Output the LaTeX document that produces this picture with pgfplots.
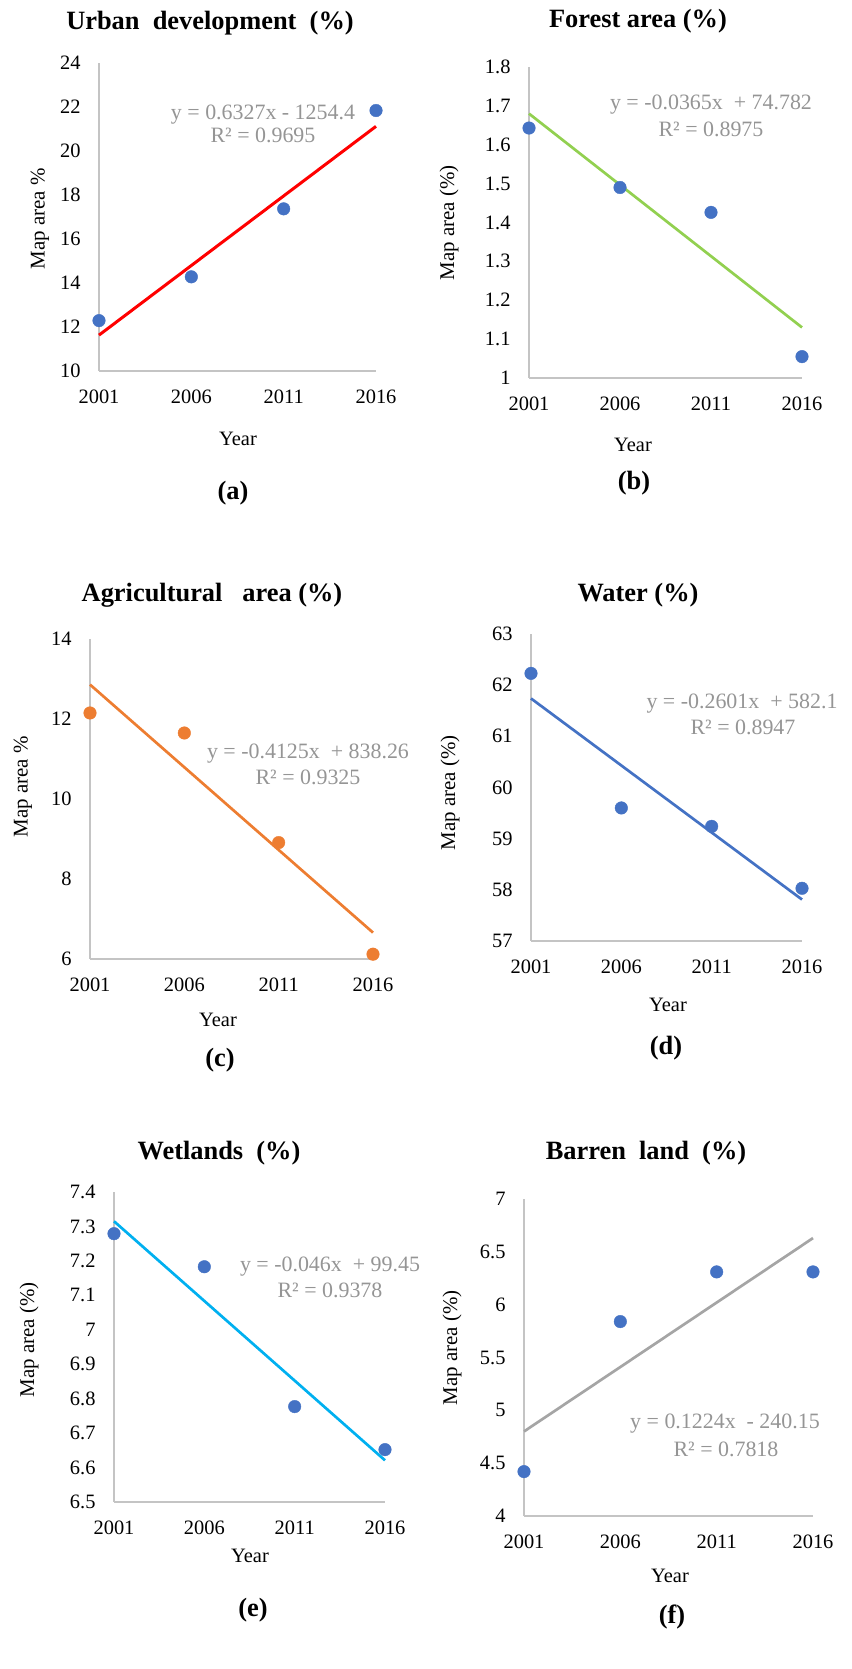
\documentclass[border=0pt]{standalone}
\usepackage{fontspec}
\setmainfont{Liberation Serif}
\usepackage{pgfplots}
\pgfplotsset{compat=1.18}
\definecolor{dotblue}{HTML}{4472C4}
\definecolor{dotorange}{HTML}{ED7D31}
\definecolor{tred}{HTML}{FF0000}
\definecolor{tgreen}{HTML}{92D050}
\definecolor{torange}{HTML}{ED7D31}
\definecolor{tblue}{HTML}{4472C4}
\definecolor{tcyan}{HTML}{00B0F0}
\definecolor{tgrey}{HTML}{A5A5A5}
\definecolor{eqgrey}{HTML}{959595}
\definecolor{axgrey}{HTML}{C4C4C4}
\pgfplotsset{
  panel/.style={
    scale only axis, anchor=south west, clip=false,
    axis x line=bottom, axis y line=left,
    axis line style={-, draw=axgrey, line width=1.3bp},
    xmin=2001, xmax=2016,
    xtick={2001,2006,2011,2016}, xticklabels={2001,2006,2011,2016},
    major tick length=0pt, tick style={draw=none},
    tick label style={font=\fontsize{20.5}{24}\selectfont, text=black},
    xticklabel style={yshift=-15bp},
    yticklabel style={xshift=-15bp},
    /pgf/number format/assume math mode=true,
  },
  dots/.style={only marks, mark=*, mark size=6.3bp, mark options={draw=#1, fill=#1}},
  trend/.style={no marks, draw=#1, line width=2.7bp},
}
\newcommand{\ttl}{\bfseries\fontsize{26.5}{30}\selectfont}
\newcommand{\lab}{\fontsize{20.5}{24}\selectfont}
\newcommand{\ylab}{\fontsize{21}{25}\selectfont}
\newcommand{\eqf}{\fontsize{22}{26}\selectfont\color{eqgrey}}
\begin{document}
\begin{tikzpicture}
\useasboundingbox (0,0) rectangle (852bp,1669bp);

% (a) Urban development
\begin{axis}[panel, at={(99bp,1298bp)}, width=277bp, height=308bp,
  ymin=10, ymax=24, ytick={10,12,14,16,18,20,22,24}]
\addplot[dots=dotblue] coordinates {(2001,12.29) (2006,14.28) (2011,17.37) (2016,21.84)};
\addplot[trend=tred, line width=3bp] coordinates {(2001,11.63) (2016,21.12)};
\end{axis}

% (b) Forest area
\begin{axis}[panel, at={(529bp,1291bp)}, width=273bp, height=311bp,
  ymin=1, ymax=1.8, ytick={1,1.1,1.2,1.3,1.4,1.5,1.6,1.7,1.8}]
\addplot[dots=dotblue] coordinates {(2001,1.643) (2006,1.490) (2011,1.426) (2016,1.055)};
\addplot[trend=tgreen] coordinates {(2001,1.680) (2016,1.130)};
\end{axis}

% (c) Agricultural area
\begin{axis}[panel, at={(90bp,710bp)}, width=283bp, height=320bp,
  ymin=6, ymax=14, ytick={6,8,10,12,14}]
\addplot[dots=dotorange] coordinates {(2001,12.15) (2006,11.65) (2011,8.91) (2016,6.12)};
\addplot[trend=torange] coordinates {(2001,12.86) (2016,6.66)};
\end{axis}

% (d) Water
\begin{axis}[panel, at={(531bp,728bp)}, width=271bp, height=307bp,
  ymin=57, ymax=63, ytick={57,58,59,60,61,62,63}]
\addplot[dots=dotblue] coordinates {(2001,62.23) (2006,59.60) (2011,59.24) (2016,58.03)};
\addplot[trend=tblue] coordinates {(2001,61.74) (2016,57.81)};
\end{axis}

% (e) Wetlands
\begin{axis}[panel, at={(114bp,167bp)}, width=271bp, height=310bp,
  ymin=6.5, ymax=7.4, ytick={6.5,6.6,6.7,6.8,6.9,7,7.1,7.2,7.3,7.4}]
\addplot[dots=dotblue] coordinates {(2001,7.279) (2006,7.183) (2011,6.777) (2016,6.652)};
\addplot[trend=tcyan] coordinates {(2001,7.315) (2016,6.621)};
\end{axis}

% (f) Barren land
\begin{axis}[panel, at={(524bp,153bp)}, width=289bp, height=317bp,
  ymin=4, ymax=7, ytick={4,4.5,5,5.5,6,6.5,7}]
\addplot[dots=dotblue] coordinates {(2001,4.42) (2006,5.84) (2011,6.31) (2016,6.31)};
\addplot[trend=tgrey] coordinates {(2001,4.80) (2016,6.63)};
\end{axis}

\begin{scope}[shift={(0,1669bp)}, x=1bp, y=-1bp]
% titles
\node[anchor=base, font=\ttl] at (210,29.5) {Urban\ \ development\ \ (\%)};
\node[anchor=base, font=\ttl] at (638,27.5) {Forest area (\%)};
\node[anchor=base, font=\ttl] at (212,601.7) {Agricultural\ \ \ area (\%)};
\node[anchor=base, font=\ttl] at (638,601.7) {Water (\%)};
\node[anchor=base, font=\ttl] at (219,1159.3) {Wetlands\ \ (\%)};
\node[anchor=base, font=\ttl] at (646,1159.3) {Barren\ \ land\ \ (\%)};
% x labels
\node[anchor=base, font=\lab] at (238,446) {Year};
\node[anchor=base, font=\lab] at (633,451.7) {Year};
\node[anchor=base, font=\lab] at (218,1026.7) {Year};
\node[anchor=base, font=\lab] at (668,1012) {Year};
\node[anchor=base, font=\lab] at (250,1563) {Year};
\node[anchor=base, font=\lab] at (670,1582.7) {Year};
% y labels
\node[rotate=90, font=\ylab] at (40,219) {Map area \%};
\node[rotate=90, font=\ylab] at (449,223) {Map area (\%)};
\node[rotate=90, font=\ylab] at (23,787) {Map area \%};
\node[rotate=90, font=\ylab] at (450,793) {Map area (\%)};
\node[rotate=90, font=\ylab] at (29,1340) {Map area (\%)};
\node[rotate=90, font=\ylab] at (452,1348) {Map area (\%)};
% panel labels
\node[font=\ttl] at (233,493) {(a)};
\node[font=\ttl] at (634,483) {(b)};
\node[font=\ttl] at (220,1060) {(c)};
\node[font=\ttl] at (666,1048) {(d)};
\node[font=\ttl] at (253,1610) {(e)};
\node[font=\ttl] at (672,1617) {(f)};
% equations
\node[anchor=base, font=\eqf] at (263,120) {y = 0.6327x - 1254.4};
\node[anchor=base, font=\eqf] at (263,143) {R² = 0.9695};
\node[anchor=base, font=\eqf] at (711,110) {y = -0.0365x~~+ 74.782};
\node[anchor=base, font=\eqf] at (711,136.7) {R² = 0.8975};
\node[anchor=base, font=\eqf] at (308,758.3) {y = -0.4125x~~+ 838.26};
\node[anchor=base, font=\eqf] at (308,785) {R² = 0.9325};
\node[anchor=base, font=\eqf] at (742,709) {y = -0.2601x~~+ 582.1};
\node[anchor=base, font=\eqf] at (743,734.3) {R² = 0.8947};
\node[anchor=base, font=\eqf] at (330,1271.7) {y = -0.046x~~+ 99.45};
\node[anchor=base, font=\eqf] at (330,1297.3) {R² = 0.9378};
\node[anchor=base, font=\eqf] at (725,1429) {y = 0.1224x~~- 240.15};
\node[anchor=base, font=\eqf] at (726,1456.7) {R² = 0.7818};
\end{scope}
\end{tikzpicture}
\end{document}
